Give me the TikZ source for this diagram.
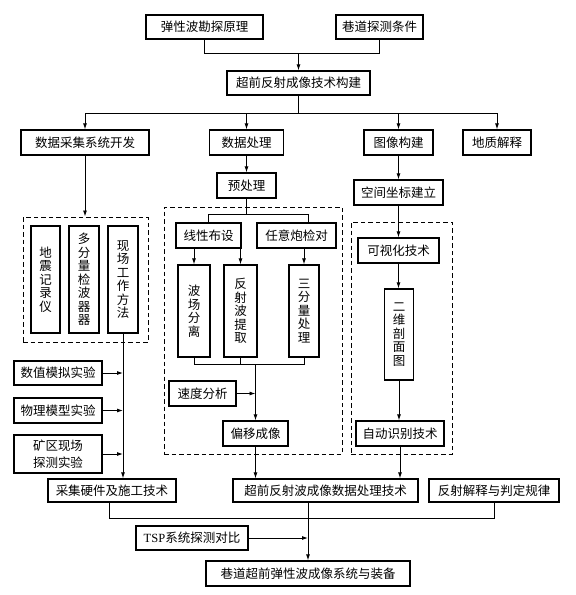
\documentclass[tikz,border=0pt]{standalone}
\usepackage{fontspec}
\setmainfont{Liberation Serif}
\newfontfamily\cjk{Noto Sans CJK SC}
\usetikzlibrary{arrows.meta}
\tikzset{
  bx/.style={draw, line width=1.2pt, inner sep=0pt, font=\cjk\fontsize{12.5}{13.5}\selectfont, align=center},
  dbox/.style={draw, line width=1pt, dash pattern=on 4.5pt off 3pt, inner sep=0pt},
  ln/.style={line width=0.9pt},
  ar/.style={line width=0.9pt, -{Latex[length=6pt,width=4pt]}},
}
\begin{document}
\begin{tikzpicture}[x=1pt,y=-1pt]
\useasboundingbox (0,0) rectangle (576,595);
% top row
\node[bx, minimum width=117pt, minimum height=24pt] (yl) at (204.5,27) {弹性波勘探原理};
\node[bx, minimum width=87pt, minimum height=24pt] (hd) at (379.5,27) {巷道探测条件};
\node[bx, minimum width=143pt, minimum height=24pt] (cq) at (298.5,83) {超前反射成像技术构建};
% second row
\node[bx, minimum width=128pt, minimum height=25pt] (sj) at (85,142.5) {数据采集系统开发};
\node[bx, minimum width=74pt, minimum height=25pt] (clx) at (246.5,142.5) {数据处理};
\node[bx, minimum width=69pt, minimum height=25pt] (tx) at (398.5,142.5) {图像构建};
\node[bx, minimum width=68pt, minimum height=25pt] (dz) at (497,142.5) {地质解释};
% left column
\node[dbox, minimum width=125pt, minimum height=125pt] (dl) at (85.5,279.5) {};
\node[bx, minimum width=29pt, minimum height=107pt] (v1) at (45.5,279.5) {地\\震\\记\\录\\仪};
\node[bx, minimum width=30pt, minimum height=107pt] (v2) at (84,279.5) {多\\分\\量\\检\\波\\器\\器};
\node[bx, minimum width=30pt, minimum height=107pt] (v3) at (123,279.5) {现\\场\\工\\作\\方\\法};
\node[bx, minimum width=88pt, minimum height=24pt] (sz) at (58,373) {数值模拟实验};
\node[bx, minimum width=88pt, minimum height=25pt] (wl) at (58,410.5) {物理模型实验};
\node[bx, minimum width=88pt, minimum height=38pt, font=\cjk\fontsize{12.5}{17}\selectfont] (kq) at (58,454) {矿区现场\\探测实验};
% middle column
\node[bx, minimum width=59pt, minimum height=25pt] (ycl) at (246.5,185.5) {预处理};
\node[dbox, minimum width=178pt, minimum height=247pt] (dm) at (253,330.5) {};
\node[bx, minimum width=65pt, minimum height=25pt] (xx) at (208.5,235.5) {线性布设};
\node[bx, minimum width=79pt, minimum height=25pt] (ry) at (296.5,235.5) {任意炮检对};
\node[bx, minimum width=32pt, minimum height=92pt] (bc) at (194,311) {波\\场\\分\\离};
\node[bx, minimum width=33pt, minimum height=92pt] (fs) at (240.5,311) {反\\射\\波\\提\\取};
\node[bx, minimum width=30pt, minimum height=92pt] (sf) at (304,311) {三\\分\\量\\处\\理};
\node[bx, minimum width=67pt, minimum height=25pt] (sd) at (202.5,393.5) {速度分析};
\node[bx, minimum width=65pt, minimum height=25pt] (py) at (255.5,433.5) {偏移成像};
% right column
\node[bx, minimum width=89pt, minimum height=25pt] (kj) at (398.5,192.5) {空间坐标建立};
\node[dbox, minimum width=101pt, minimum height=232pt] (dr) at (401.5,338) {};
\node[bx, minimum width=81pt, minimum height=25pt] (ks) at (398.5,250.5) {可视化技术};
\node[bx, minimum width=29pt, minimum height=91pt] (ew) at (399,334.5) {二\\维\\剖\\面\\图};
\node[bx, minimum width=88pt, minimum height=25pt] (zd) at (400,433.5) {自动识别技术};
% bottom
\node[bx, minimum width=128pt, minimum height=23pt] (cj) at (112,490.5) {采集硬件及施工技术};
\node[bx, minimum width=185pt, minimum height=23pt] (cf) at (325.5,490.5) {超前反射波成像数据处理技术};
\node[bx, minimum width=130pt, minimum height=23pt] (fj) at (494,490.5) {反射解释与判定规律};
\node[bx, minimum width=112pt, minimum height=24pt] (tsp) at (192,538) {{\rmfamily TSP}系统探测对比};
\node[bx, minimum width=204pt, minimum height=25pt] (fin) at (308,573.5) {巷道超前弹性波成像系统与装备};
% coordinates
\coordinate (t1) at (204.5,53);
\coordinate (t2) at (379.5,53);
\coordinate (tm) at (298.5,53);
\coordinate (b1) at (85,113);
\coordinate (b2) at (497,113);
\coordinate (bm) at (298.5,113);
\coordinate (p0) at (246.5,214);
\coordinate (p1) at (208.5,214);
\coordinate (p2) at (308,214);
\coordinate (q1) at (194,364);
\coordinate (q2) at (304,364);
\coordinate (qm) at (255.5,364);
\coordinate (vx) at (123,373);
\coordinate (vy) at (123,410.5);
\coordinate (vz) at (123,454);
\coordinate (sdj) at (255.5,393.5);
\coordinate (u1) at (109,518);
\coordinate (u2) at (494,518);
\coordinate (um) at (308,518);
\coordinate (tj) at (308,538);
% top connectors
\draw[ln] (yl.south -| t1) -- (t1) -- (t2) -- (hd.south -| t2);
\draw[ar] (tm) -- (cq.north -| tm);
\draw[ln] (cq.south -| bm) -- (bm);
\draw[ln] (b1) -- (b2);
\draw[ar] (b1) -- (sj.north -| b1);
\draw[ar] (clx.north |- bm) -- (clx.north);
\draw[ar] (tx.north |- bm) -- (tx.north);
\draw[ar] (b2) -- (dz.north -| b2);
% left
\draw[ar] (sj.south) -- (dl.north -| sj.south);
\draw[ar] (v3.south) -- (cj.north -| v3.south);
\draw[ar] (sz.east) -- (vx);
\draw[ar] (wl.east) -- (vy);
\draw[ar] (kq.east) -- (vz);
% middle
\draw[ar] (clx.south) -- (ycl.north);
\draw[ln] (ycl.south) -- (p0);
\draw[ln] (xx.north) -- (p1) -- (p2) -- (ry.north -| p2);
\draw[ar] (xx.south -| bc.north) -- (bc.north);
\draw[ar] (xx.south -| fs.north) -- (fs.north);
\draw[ar] (ry.south -| sf.north) -- (sf.north);
\draw[ln] (bc.south) -- (q1) -- (q2) -- (sf.south);
\draw[ln] (fs.south -| 240.5,0) -- (240.5,364);
\draw[ar] (qm) -- (py.north);
\draw[ar] (sd.east) -- (sdj);
\draw[ar] (py.south) -- (cf.north -| py.south);
% right
\draw[ar] (tx.south) -- (kj.north -| tx.south);
\draw[ar] (kj.south) -- (ks.north);
\draw[ar] (ks.south) -- (ew.north -| ks.south);
\draw[ar] (ew.south) -- (zd.north -| ew.south);
\draw[ar] (zd.south) -- (cf.north -| zd.south);
% bottom
\draw[ln] (cj.south -| u1) -- (u1) -- (u2) -- (fj.south -| u2);
\draw[ar] (cf.south -| um) -- (fin.north);
\draw[ar] (tsp.east) -- (tj);
\end{tikzpicture}
\end{document}
